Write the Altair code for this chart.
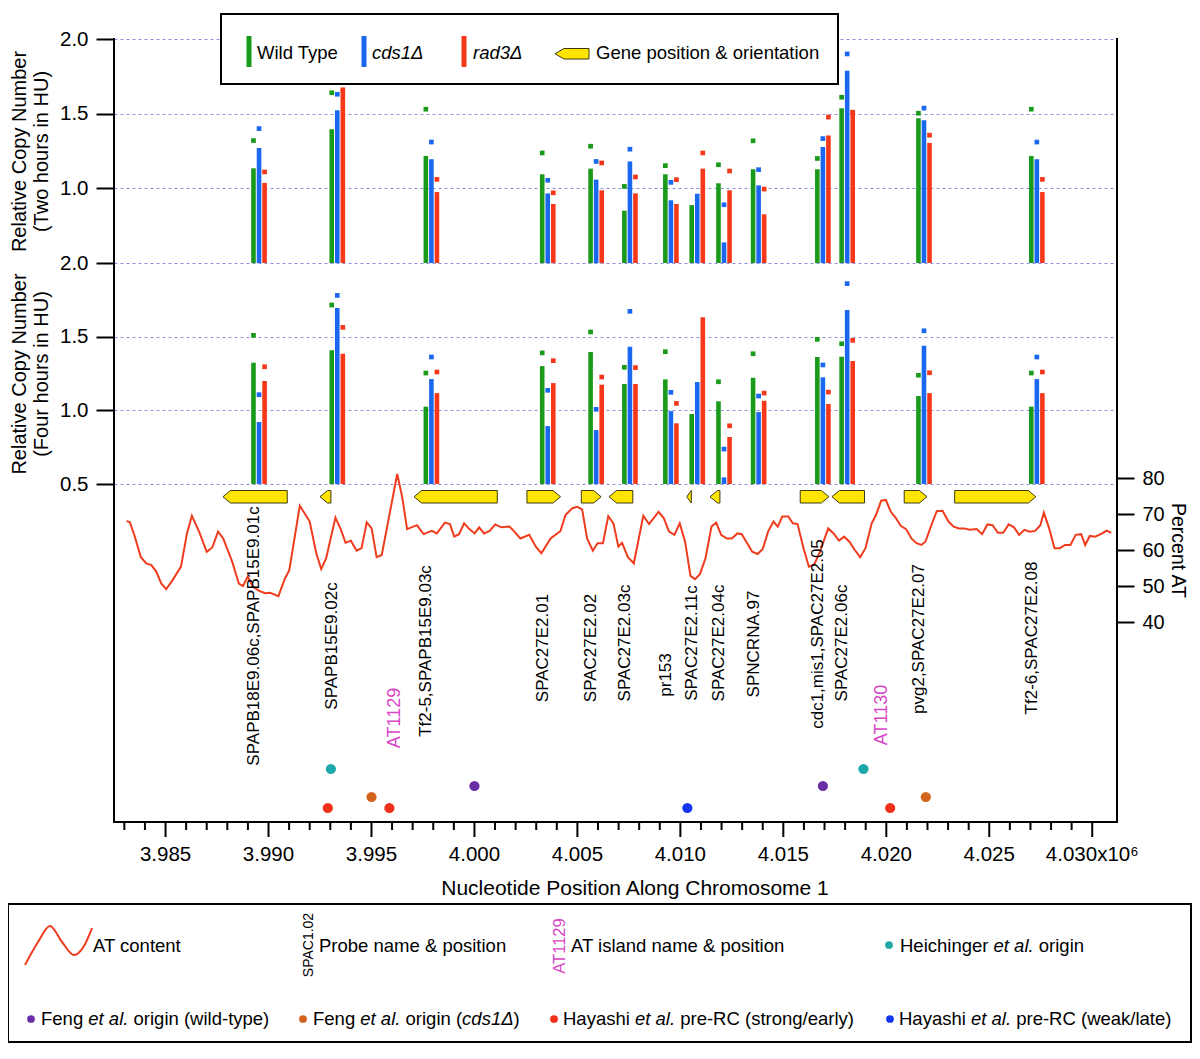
import altair as alt
import pandas as pd

# ------------------------------------------------------------------ data
probe_names = ["SPAPB18E9.06c,SPAPB15E9.01c", "SPAPB15E9.02c", "Tf2-5,SPAPB15E9.03c",
               "SPAC27E2.01", "SPAC27E2.02", "SPAC27E2.03c", "pr153", "SPAC27E2.11c",
               "SPAC27E2.04c", "SPNCRNA.97", "cdc1,mis1,SPAC27E2.05", "SPAC27E2.06c",
               "pvg2,SPAC27E2.07", "Tf2-6,SPAC27E2.08"]
probe_pos = [3989540, 3993340, 3997910, 4003560, 4005910, 4007550, 4009540,
             4010820, 4012120, 4013800, 4016920, 4018100, 4021830, 4027310]

# two hours in HU (bar = value, sq = second measurement)
wt_2h = [1.134, 1.396, 1.217, 1.094, 1.132, 0.850, 1.094, 0.888, 1.034, 1.128, 1.128, 1.537, 1.470, 1.217]
wt_2h_sq = [1.32, 1.64, 1.53, 1.237, 1.282, 1.013, 1.152, None, 1.158, 1.318, 1.20, 1.61, 1.503, 1.53]
cds1_2h = [1.27, 1.523, 1.195, 0.966, 1.058, 1.18, 0.92, 0.964, 0.638, 1.02, 1.277, 1.787, 1.456, 1.195]
cds1_2h_sq = [1.40, 1.63, 1.31, 1.054, 1.18, 1.262, 1.04, None, 0.89, 1.125, 1.333, 1.90, 1.537, 1.31]
rad3_2h = [1.036, 1.658, 0.975, 0.895, 0.987, 0.966, 0.895, 1.132, 0.987, 0.826, 1.354, 1.523, 1.304, 0.975]
rad3_2h_sq = [1.11, 1.66, 1.06, 0.97, 1.17, 1.076, 1.058, 1.237, 1.116, 0.995, 1.477, 1.51, 1.356, 1.06]

# four hours in HU
wt_4h = [1.323, 1.407, 1.025, 1.30, 1.396, 1.179, 1.21, 0.975, 1.061, 1.221, 1.362, 1.364, 1.097, 1.025]
wt_4h_sq = [1.509, 1.715, 1.253, 1.39, 1.532, 1.292, 1.398, None, 1.194, 1.384, 1.482, 1.452, 1.238, 1.253]
cds1_4h = [0.921, 1.695, 1.212, 0.893, 0.866, 1.432, 0.995, 1.192, 0.545, 0.988, 1.224, 1.681, 1.439, 1.212]
cds1_4h_sq = [1.106, 1.78, 1.362, 1.136, 1.007, 1.672, 1.122, None, 0.737, 1.097, 1.308, 1.86, 1.54, 1.362]
rad3_4h = [1.199, 1.384, 1.117, 1.185, 1.174, 1.179, 0.912, 1.631, 0.819, 1.065, 1.043, 1.335, 1.117, 1.117]
rad3_4h_sq = [1.296, 1.563, 1.26, 1.337, 1.226, 1.29, 1.047, None, 0.895, 1.117, 1.124, 1.475, 1.255, 1.26]

# AT content (kb position, percent AT)
at_pos_kb = [3983.11, 3983.27, 3983.51, 3983.80, 3984.07, 3984.31, 3984.55, 3984.79, 3985.03, 3985.35,
             3985.75, 3986.04, 3986.28, 3986.63, 3987.00, 3987.27, 3987.55, 3987.80, 3988.24, 3988.56,
             3988.76, 3988.99, 3989.25, 3989.52, 3989.84, 3990.08, 3990.48, 3990.80, 3991.01, 3991.52,
             3992.00, 3992.32, 3992.56, 3992.80, 3993.25, 3993.52, 3993.74, 3994.00, 3994.28, 3994.52,
             3994.77, 3995.01, 3995.25, 3995.50, 3996.25, 3996.49, 3996.73, 3997.21, 3997.53, 3997.93,
             3998.17, 3998.57, 3998.81, 3999.02, 3999.25, 3999.50, 3999.75, 4000.01, 4000.23, 4000.47,
             4000.74, 4001.01, 4001.30, 4001.70, 4001.94, 4002.23, 4002.66, 4002.98, 4003.25, 4003.70,
             4004.18, 4004.42, 4004.75, 4004.99, 4005.23, 4005.47, 4005.75, 4005.98, 4006.24, 4006.50,
             4006.75, 4006.99, 4007.17, 4007.45, 4007.74, 4008.20, 4008.48, 4008.94, 4009.20, 4009.45,
             4009.71, 4009.97, 4010.23, 4010.49, 4010.71, 4010.95, 4011.22, 4011.51, 4011.74, 4011.98,
             4012.25, 4012.50, 4012.77, 4012.98, 4013.23, 4013.49, 4013.75, 4014.00, 4014.26, 4014.52,
             4014.73, 4014.95, 4015.24, 4015.46, 4015.69, 4015.98, 4016.24, 4016.50, 4016.75, 4017.18,
             4017.44, 4017.70, 4017.95, 4018.21, 4018.47, 4018.73, 4018.99, 4019.29, 4019.50, 4019.75,
             4019.98, 4020.22, 4020.44, 4020.70, 4020.96, 4021.22, 4021.47, 4021.70, 4021.90, 4022.16,
             4022.45, 4022.73, 4023.02, 4023.27, 4023.53, 4023.79, 4024.05, 4024.39, 4024.65, 4024.91,
             4025.16, 4025.42, 4025.68, 4025.94, 4026.20, 4026.45, 4026.71, 4026.97, 4027.23, 4027.48,
             4027.65, 4027.91, 4028.17, 4028.43, 4028.68, 4028.94, 4029.20, 4029.46, 4029.66, 4029.88,
             4030.14, 4030.49, 4030.69, 4030.92]
at_pct = [68.1, 67.7, 63.7, 58.0, 56.3, 55.8, 54.0, 50.7, 49.1, 51.7,
          55.4, 64.6, 69.5, 65.1, 59.5, 60.7, 65.1, 63.2, 56.7, 50.7,
          50.0, 52.6, 49.8, 48.7, 48.0, 48.1, 47.2, 52.1, 54.4, 72.3,
          67.9, 59.1, 54.7, 57.7, 69.0, 65.6, 62.0, 62.6, 59.8, 60.5,
          67.7, 66.0, 58.0, 58.6, 81.1, 74.8, 65.8, 66.9, 64.4, 65.3,
          64.6, 67.6, 67.2, 63.7, 64.4, 67.4, 65.8, 64.6, 66.3, 64.6,
          65.3, 67.1, 66.3, 66.5, 65.1, 63.2, 64.2, 60.9, 59.1, 63.2,
          65.3, 69.7, 71.6, 72.0, 71.3, 63.2, 59.8, 61.9, 61.9, 69.4,
          67.4, 60.9, 62.0, 58.0, 56.3, 69.5, 67.2, 70.6, 68.8, 65.1,
          64.2, 67.4, 62.3, 52.8, 51.9, 53.3, 57.7, 66.5, 67.6, 64.2,
          63.2, 63.2, 64.6, 64.4, 62.0, 59.5, 58.9, 60.3, 65.1, 67.9,
          66.5, 69.3, 69.3, 67.4, 67.2, 60.5, 55.4, 56.0, 59.1, 66.0,
          64.6, 62.6, 63.7, 62.3, 60.0, 58.0, 60.5, 67.4, 69.7, 73.7,
          73.9, 70.6, 69.1, 66.7, 65.8, 63.2, 61.9, 61.4, 62.3, 66.5,
          70.8, 70.9, 67.9, 66.5, 66.0, 66.0, 65.6, 65.8, 64.4, 67.1,
          66.9, 64.8, 64.8, 67.1, 66.3, 64.2, 65.6, 65.1, 65.3, 66.9,
          70.4, 66.0, 60.5, 60.5, 61.4, 61.4, 64.2, 64.4, 61.4, 63.9,
          63.7, 64.6, 65.4, 64.8]

# genes (start, end, strand)
gene_start = [3987790, 3992500, 3997070, 4002550, 4005190, 4006540, 4010310, 4011440, 4015820, 4017360, 4020870, 4023320]
gene_end = [3990910, 3993030, 4001110, 4004180, 4006150, 4007690, 4010530, 4011920, 4017210, 4018940, 4021970, 4027260]
gene_strand = [-1, -1, -1, 1, 1, -1, -1, -1, 1, -1, 1, 1]

# AT islands
at_island_names = ["AT1129", "AT1130"]
at_island_pos = [3996400, 4020050]

# replication origins
heichinger_pos = [3993030, 4018890]
feng_wt_pos = [4000000, 4016920]
feng_cds1_pos = [3995000, 4021920]
hayashi_strong_pos = [3992880, 3995870, 4020190]
hayashi_weak_pos = [4010340]

# x-axis ticks
major_ticks = list(range(3985000, 4030001, 5000))
major_labels = ["3.985", "3.990", "3.995", "4.000", "4.005", "4.010", "4.015", "4.020", "4.025", "4.030x10\u2076"]
minor_ticks = [v for v in range(3983000, 4031000, 1000) if v % 5000 != 0]

# ------------------------------------------------------------------ layout / style
FONT = "Liberation Sans"
W, H = 1003, 783
OX, OY = 114, 39                     # page position of the plot origin
X_DOMAIN = [3982740, 4030960]
PX_PER_BP = W / (X_DOMAIN[1] - X_DOMAIN[0])
BAR_STEP = 5.6 / PX_PER_BP
HEAD_BP = 7.5 / PX_PER_BP

GREEN, BLUE, RED = "#1a9a1a", "#1a68f0", "#f5381a"
TEAL, PURPLE, ORANGE, HRED, HBLUE = "#1ea8a8", "#6a2ea6", "#d2641e", "#f0301a", "#1436f0"
MAGENTA = "#d846c6"
YELLOW = "#ffe400"
GRID = "#8f8fe0"

probe_label_y = [636, 646, 651, 648, 648, 643, 675, 643, 643, 644, 634, 643, 639, 638]
island_label_y = [718, 715]


def rx(p):
    return p - OX


def ry(p):
    return p - OY


AW = {' ': 278, '&': 667, '(': 333, ')': 333, ',': 278, '-': 333, '.': 278, '/': 278, 'Δ': 668}
for d in "0123456789":
    AW[d] = 556
AW.update(dict(A=667, B=667, C=722, D=722, E=667, F=611, G=778, H=722, I=278, J=500, K=667, L=556,
               M=833, N=722, O=778, P=667, Q=778, R=722, S=667, T=611, U=722, V=667, W=944, X=667,
               Y=667, Z=611))
AW.update(dict(a=556, b=556, c=500, d=556, e=556, f=278, g=556, h=556, i=222, j=222, k=500, l=222,
               m=833, n=556, o=556, p=556, q=556, r=333, s=500, t=278, u=556, v=500, w=722, x=500,
               y=500, z=500))


def tw(s, size):
    return sum(AW.get(c, 556) for c in s) * size / 1000.0


def place(segments, x0, y, size):
    out, x = [], x0
    for txt, it in segments:
        lead = len(txt) - len(txt.lstrip(" "))
        trail = len(txt) - len(txt.rstrip(" "))
        x += lead * tw(" ", size)
        core = txt.strip(" ")
        out.append(dict(x=x, y=y, t=core, it=it))
        x += tw(core, size) + trail * tw(" ", size)
    return out


xs = alt.Scale(domain=X_DOMAIN, nice=False, zero=False)


def PX(field):
    return alt.X(field, scale=None, axis=None)


def PY(field):
    return alt.Y(field, scale=None, axis=None)


def BX(field):
    return alt.X(field, scale=xs, axis=None)


def y_axis(values, title):
    return alt.Axis(values=values, format=".1f", title=title, orient="left", domain=False,
                    grid=True, gridDash=[3, 3], gridColor=GRID, gridWidth=1,
                    tickSize=18, tickWidth=2, tickColor="black", labelFontSize=20.5,
                    labelPadding=8, labelColor="black", labelOverlap=False,
                    titleFontSize=20, titleFontWeight="normal", titleColor="black",
                    titlePadding=8, titleLineHeight=22)


top_scale = alt.Scale(domain=[0.5, 2.0], range=[224, 0], nice=False, zero=False)
bot_scale = alt.Scale(domain=[0.5, 2.0], range=[445, 224], nice=False, zero=False)
at_scale = alt.Scale(domain=[40, 80], range=[583, 439], nice=False, zero=False)


def bar_frames(series):
    bars, sqs = [], []
    for k, (vals, sq, col) in enumerate(series):
        for p, v, s in zip(probe_pos, vals, sq):
            xpos = p + (k - 1) * BAR_STEP
            bars.append(dict(x=xpos, v=v, base=0.5, col=col))
            if s is not None:
                sqs.append(dict(x=xpos, v=s, col=col))
    return pd.DataFrame(bars), pd.DataFrame(sqs)


top_bars, top_sq = bar_frames([(wt_2h, wt_2h_sq, GREEN), (cds1_2h, cds1_2h_sq, BLUE), (rad3_2h, rad3_2h_sq, RED)])
bot_bars, bot_sq = bar_frames([(wt_4h, wt_4h_sq, GREEN), (cds1_4h, cds1_4h_sq, BLUE), (rad3_4h, rad3_4h_sq, RED)])

layers = []

layers.append(alt.Chart(top_bars).mark_bar(width=4.6).encode(
    x=BX("x:Q"),
    y=alt.Y("v:Q", scale=top_scale,
            axis=y_axis([1.0, 1.5, 2.0], ["Relative Copy Number", "(Two hours in HU)"])),
    y2="base:Q",
    color=alt.Color("col:N", scale=None)))
layers.append(alt.Chart(top_sq).mark_square(size=22, opacity=1).encode(
    x=BX("x:Q"),
    y=alt.Y("v:Q", scale=top_scale, axis=None),
    color=alt.Color("col:N", scale=None)))

layers.append(alt.Chart(bot_bars).mark_bar(width=4.6).encode(
    x=BX("x:Q"),
    y=alt.Y("v:Q", scale=bot_scale,
            axis=y_axis([0.5, 1.0, 1.5, 2.0], ["Relative Copy Number", "(Four hours in HU)"])),
    y2="base:Q",
    color=alt.Color("col:N", scale=None)))
layers.append(alt.Chart(bot_sq).mark_square(size=22, opacity=1).encode(
    x=BX("x:Q"),
    y=alt.Y("v:Q", scale=bot_scale, axis=None),
    color=alt.Color("col:N", scale=None)))

# AT content line
at_df = pd.DataFrame({"pos": [p * 1000 for p in at_pos_kb], "pct": at_pct})
layers.append(alt.Chart(at_df).mark_line(color="#f03c1e", strokeWidth=2).encode(
    x=BX("pos:Q"),
    y=alt.Y("pct:Q", scale=at_scale,
            axis=alt.Axis(values=[40, 50, 60, 70, 80], orient="right", title="Percent AT",
                          domain=False, grid=False, tickSize=17, tickWidth=2, tickColor="black",
                          labelFontSize=20, labelPadding=8, labelColor="black",
                          titleFontSize=19.5, titleFontWeight="normal", titleColor="black",
                          titlePadding=3))))

# gene arrows
TOP, BOT = ry(490.5), ry(503)
MID = (TOP + BOT) / 2
arrow_rows = []
for i, (s, e, strand) in enumerate(zip(gene_start, gene_end, gene_strand)):
    head = min(HEAD_BP, e - s)
    if strand < 0:
        pts = [(s, MID, MID), (s + head, TOP, BOT), (e, TOP, BOT)]
    else:
        pts = [(s, TOP, BOT), (e - head, TOP, BOT), (e, MID, MID)]
    seen = set()
    for (px, a, b) in pts:
        if px in seen:
            continue
        seen.add(px)
        arrow_rows.append(dict(g=i, pos=px, yt=a, yb=b))
layers.append(alt.Chart(pd.DataFrame(arrow_rows)).mark_area(
    fill=YELLOW, stroke="#3c3a10", strokeWidth=1, opacity=1, orient="vertical").encode(
    x=BX("pos:Q"), y=PY("yt:Q"), y2="yb:Q", detail="g:N"))

# probe labels
lab_df = pd.DataFrame({"pos": probe_pos, "name": probe_names, "ly": [ry(v) for v in probe_label_y]})
layers.append(alt.Chart(lab_df).mark_text(angle=270, align="center", baseline="alphabetic",
                                          fontSize=17, color="black").encode(
    x=BX("pos:Q"), y=PY("ly:Q"), text="name:N"))

isl_df = pd.DataFrame({"pos": at_island_pos, "name": at_island_names, "ly": [ry(v) for v in island_label_y]})
layers.append(alt.Chart(isl_df).mark_text(angle=270, align="center", baseline="alphabetic",
                                          fontSize=18, color=MAGENTA).encode(
    x=BX("pos:Q"), y=PY("ly:Q"), text="name:N"))

# origins
org_rows = []
for plist, col, py in [(heichinger_pos, TEAL, 769), (feng_wt_pos, PURPLE, 786),
                       (feng_cds1_pos, ORANGE, 797), (hayashi_strong_pos, HRED, 808),
                       (hayashi_weak_pos, HBLUE, 808)]:
    for p in plist:
        org_rows.append(dict(pos=p, py=ry(py), col=col))
layers.append(alt.Chart(pd.DataFrame(org_rows)).mark_point(
    filled=True, size=105, opacity=1, shape="circle").encode(
    x=BX("pos:Q"), y=PY("py:Q"),
    color=alt.Color("col:N", scale=None)))

# x axis drawn from the shared x scale: minor ticks, major ticks, labels, title
layers.append(alt.Chart(pd.DataFrame({"pos": minor_ticks})).mark_rule(strokeWidth=2, color="black").encode(
    x=BX("pos:Q"), y=alt.value(H), y2=alt.value(H + 8)))
layers.append(alt.Chart(pd.DataFrame({"pos": major_ticks})).mark_rule(strokeWidth=2, color="black").encode(
    x=BX("pos:Q"), y=alt.value(H), y2=alt.value(H + 15)))
layers.append(alt.Chart(pd.DataFrame({"pos": major_ticks, "lab": major_labels})).mark_text(
    align="center", baseline="middle", fontSize=20.5, color="black").encode(
    x=BX("pos:Q"), y=alt.value(ry(855)), text="lab:N"))
one = pd.DataFrame({"a": [0]})
layers.append(alt.Chart(one).mark_text(
    align="center", baseline="middle", fontSize=21, color="black",
    text="Nucleotide Position Along Chromosome 1").encode(x=alt.value(rx(635)), y=alt.value(ry(889))))

# frame
frame_style = dict(strokeWidth=2, color="black", strokeCap="square")
layers.append(alt.Chart(one).mark_rule(**frame_style).encode(x=alt.value(0), y=alt.value(0), y2=alt.value(H)))
layers.append(alt.Chart(one).mark_rule(**frame_style).encode(x=alt.value(W), y=alt.value(0), y2=alt.value(H)))
layers.append(alt.Chart(one).mark_rule(**frame_style).encode(x=alt.value(0), x2=alt.value(W), y=alt.value(H)))

# ------------------------------------------------------------------ top legend
LF = 18.5
layers.append(alt.Chart(one).mark_rect(fill="white", stroke="black", strokeWidth=2).encode(
    x=alt.value(rx(221)), x2=alt.value(rx(838)), y=alt.value(ry(14)), y2=alt.value(ry(84))))
leg_bars = pd.DataFrame([
    dict(x=rx(246.5), x2=rx(251.5), y=ry(36), y2=ry(67), col=GREEN),
    dict(x=rx(361.5), x2=rx(366.5), y=ry(36), y2=ry(67), col=BLUE),
    dict(x=rx(461.5), x2=rx(466.5), y=ry(36), y2=ry(67), col=RED),
])
layers.append(alt.Chart(leg_bars).mark_rect().encode(
    x=PX("x:Q"), x2="x2:Q", y=PY("y:Q"), y2="y2:Q",
    color=alt.Color("col:N", scale=None)))
la_t, la_b = ry(48.5), ry(59)
la_m = (la_t + la_b) / 2
leg_arrow = pd.DataFrame([dict(x=rx(555), yt=la_m, yb=la_m), dict(x=rx(564), yt=la_t, yb=la_b),
                          dict(x=rx(589), yt=la_t, yb=la_b)])
layers.append(alt.Chart(leg_arrow).mark_area(
    fill=YELLOW, stroke="#3c3a10", strokeWidth=1, opacity=1, orient="vertical").encode(
    x=PX("x:Q"), y=PY("yt:Q"), y2="yb:Q"))

legend_text = []
legend_text += place([("Wild Type", False)], rx(257), ry(53), LF)
legend_text += place([("cds1Δ", True)], rx(372), ry(53), LF)
legend_text += place([("rad3Δ", True)], rx(473), ry(53), LF)
legend_text += place([("Gene position & orientation", False)], rx(596), ry(53), LF)

# ------------------------------------------------------------------ bottom legend
layers.append(alt.Chart(one).mark_rect(fill="white", stroke="black", strokeWidth=2).encode(
    x=alt.value(rx(8)), x2=alt.value(rx(1191)), y=alt.value(ry(904)), y2=alt.value(ry(1042))))
squig = pd.DataFrame({"x": [rx(v) for v in [25, 38, 50, 62, 74, 84, 92]],
                      "y": [ry(v) for v in [965, 942, 926, 942, 955, 946, 928]]})
layers.append(alt.Chart(squig).mark_line(color="#f03c1e", strokeWidth=2, interpolate="monotone").encode(
    x=PX("x:Q"), y=PY("y:Q")))

R1, R2 = 946, 1019
legend_text += place([("AT content", False)], rx(93), ry(R1), LF)
legend_text += place([("Probe name & position", False)], rx(319), ry(R1), LF)
legend_text += place([("AT island name & position", False)], rx(571), ry(R1), LF)
legend_text += place([("Heichinger ", False), ("et al.", True), (" origin", False)], rx(900), ry(R1), LF)
legend_text += place([("Feng ", False), ("et al.", True), (" origin (wild-type)", False)], rx(41), ry(R2), LF)
legend_text += place([("Feng ", False), ("et al.", True), (" origin (", False), ("cds1Δ", True), (")", False)],
                     rx(313), ry(R2), LF)
legend_text += place([("Hayashi ", False), ("et al.", True), (" pre-RC (strong/early)", False)], rx(563), ry(R2), LF)
legend_text += place([("Hayashi ", False), ("et al.", True), (" pre-RC (weak/late)", False)], rx(899), ry(R2), LF)

lt = pd.DataFrame(legend_text)
layers.append(alt.Chart(lt[~lt.it]).mark_text(align="left", baseline="middle", fontSize=LF, color="black").encode(
    x=PX("x:Q"), y=PY("y:Q"), text="t:N"))
layers.append(alt.Chart(lt[lt.it]).mark_text(align="left", baseline="middle", fontSize=LF, color="black",
                                              fontStyle="italic").encode(
    x=PX("x:Q"), y=PY("y:Q"), text="t:N"))

rot_black = pd.DataFrame([dict(x=rx(313), y=ry(945), t="SPAC1.02")])
rot_mag = pd.DataFrame([dict(x=rx(565), y=ry(946), t="AT1129")])
layers.append(alt.Chart(rot_black).mark_text(angle=270, align="center", baseline="alphabetic",
                                             fontSize=14, color="black").encode(
    x=PX("x:Q"), y=PY("y:Q"), text="t:N"))
layers.append(alt.Chart(rot_mag).mark_text(angle=270, align="center", baseline="alphabetic",
                                           fontSize=16.5, color=MAGENTA).encode(
    x=PX("x:Q"), y=PY("y:Q"), text="t:N"))

leg_dots = pd.DataFrame([
    dict(x=rx(889), y=ry(R1 - 1), col=TEAL),
    dict(x=rx(31), y=ry(R2), col=PURPLE),
    dict(x=rx(303), y=ry(R2), col=ORANGE),
    dict(x=rx(554), y=ry(R2), col=HRED),
    dict(x=rx(890), y=ry(R2), col=HBLUE),
])
layers.append(alt.Chart(leg_dots).mark_point(filled=True, size=60, opacity=1, shape="circle").encode(
    x=PX("x:Q"), y=PY("y:Q"), color=alt.Color("col:N", scale=None)))

chart = alt.layer(*layers).resolve_scale(y="independent").properties(
    width=W, height=H,
    padding={"left": 106, "top": 31, "right": 75, "bottom": 222},
    autosize=alt.AutoSizeParams(type="none"),
    background="white",
).configure(font=FONT).configure_view(stroke=None)

chart.save("out.html", embed_options={"renderer": "svg", "actions": False})
